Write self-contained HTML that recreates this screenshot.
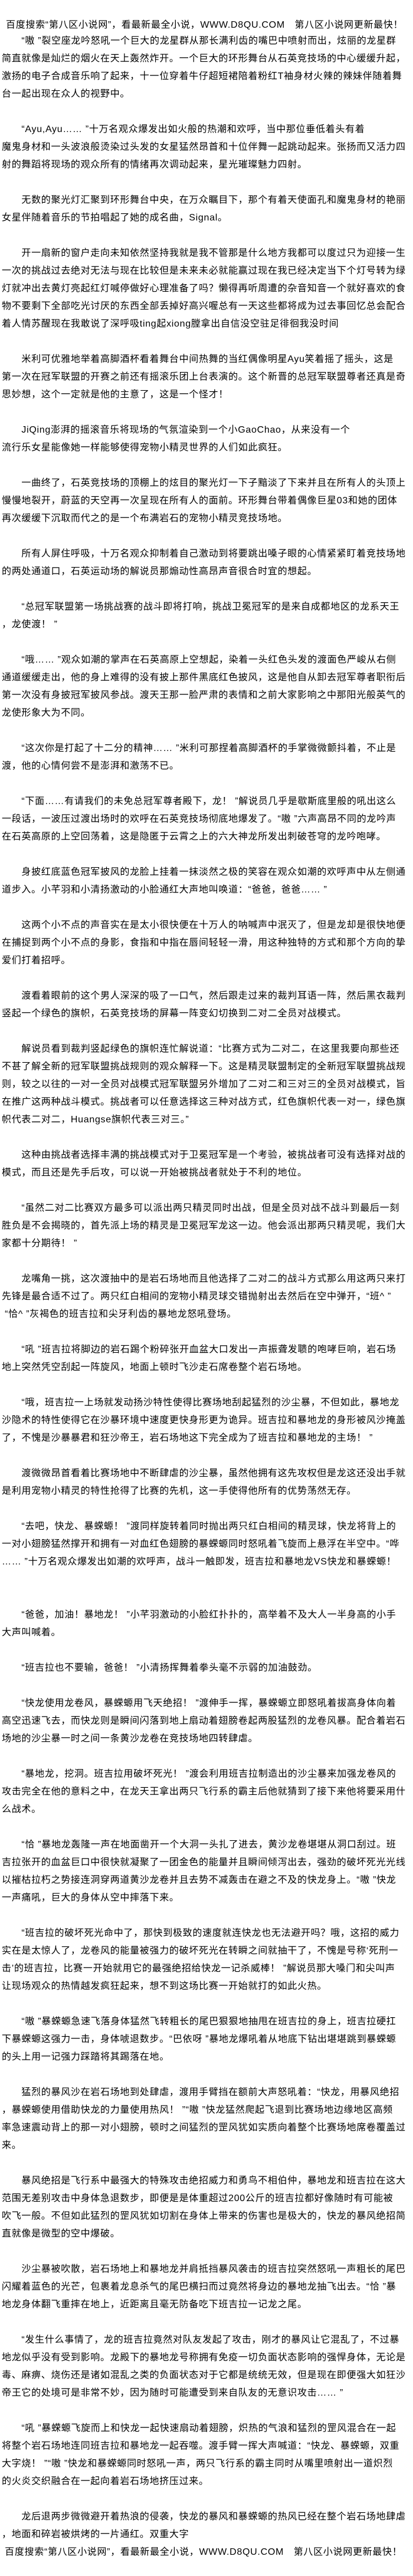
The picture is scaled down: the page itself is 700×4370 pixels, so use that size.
<!DOCTYPE html>
<html><head><meta charset="utf-8">
<style>
html,body{margin:0;padding:0;background:#fff;}
body{width:700px;height:4370px;position:relative;overflow:hidden;color:#000;
font-family:"Liberation Sans","Noto Sans CJK SC","WenQuanYi Zen Hei",sans-serif;font-size:16px;letter-spacing:0.7px;}
.h{position:absolute;left:10px;top:28px;line-height:30px;white-space:pre;}
.c{position:absolute;left:3px;top:55px;width:700px;}
.c div{height:30px;line-height:30px;white-space:pre;}
</style></head><body>
<div class="h">百度搜索“第八区小说网”，看最新最全小说，WWW.D8QU.COM　第八区小说网更新最快！</div>
<div class="c">
<div>　　“嗷 ”裂空座龙吟怒吼一个巨大的龙星群从那长满利齿的嘴巴中喷射而出，炫丽的龙星群</div>
<div>简直就像是灿烂的烟火在天上轰然炸开。一个巨大的环形舞台从石英竞技场的中心缓缓升起，</div>
<div>激扬的电子合成音乐响了起来，十一位穿着牛仔超短裙陪着粉红T袖身材火辣的辣妹伴随着舞</div>
<div>台一起出现在众人的视野中。</div>
<div></div>
<div>　　“Ayu,Ayu…… ”十万名观众爆发出如火般的热潮和欢呼，当中那位垂低着头有着</div>
<div>魔鬼身材和一头波浪般烫染过头发的女星猛然昂首和十位伴舞一起跳动起来。张扬而又活力四</div>
<div>射的舞蹈将现场的观众所有的情绪再次调动起来，星光璀璨魅力四射。</div>
<div></div>
<div>　　无数的聚光灯汇聚到环形舞台中央，在万众瞩目下，那个有着天使面孔和魔鬼身材的艳丽</div>
<div>女星伴随着音乐的节拍唱起了她的成名曲，Signal。</div>
<div></div>
<div>　　开一扇新的窗户走向未知依然坚持我就是我不管那是什么地方我都可以度过只为迎接一生</div>
<div>一次的挑战过去绝对无法与现在比较但是未来未必就能赢过现在我已经决定当下个灯号转为绿</div>
<div>灯就冲出去黄灯亮起红灯喊停做好心理准备了吗？懒得再听周遭的杂音知音一个就好喜欢的食</div>
<div>物不要剩下全部吃光讨厌的东西全部丢掉好高兴喔总有一天这些都将成为过去事回忆总会配合</div>
<div>着人情苏醒现在我敢说了深呼吸ting起xiong膛拿出自信没空驻足徘徊我没时间</div>
<div></div>
<div>　　米利可优雅地举着高脚酒杯看着舞台中间热舞的当红偶像明星Ayu笑着摇了摇头，这是</div>
<div>第一次在冠军联盟的开赛之前还有摇滚乐团上台表演的。这个新晋的总冠军联盟尊者还真是奇</div>
<div>思妙想，这个一定就是他的主意了，这是一个怪才！</div>
<div></div>
<div>　　JiQing澎湃的摇滚音乐将现场的气氛渲染到一个小GaoChao，从来没有一个</div>
<div>流行乐女星能像她一样能够使得宠物小精灵世界的人们如此疯狂。</div>
<div></div>
<div>　　一曲终了，石英竞技场的顶棚上的炫目的聚光灯一下子黯淡了下来并且在所有人的头顶上</div>
<div>慢慢地裂开，蔚蓝的天空再一次呈现在所有人的面前。环形舞台带着偶像巨星03和她的团体</div>
<div>再次缓缓下沉取而代之的是一个布满岩石的宠物小精灵竞技场地。</div>
<div></div>
<div>　　所有人屏住呼吸，十万名观众抑制着自己激动到将要跳出嗓子眼的心情紧紧盯着竞技场地</div>
<div>的两处通道口，石英运动场的解说员那煽动性高昂声音很合时宜的想起。</div>
<div></div>
<div>　　“总冠军联盟第一场挑战赛的战斗即将打响，挑战卫冕冠军的是来自成都地区的龙系天王</div>
<div>，龙使渡！ ”</div>
<div></div>
<div>　　“哦…… ”观众如潮的掌声在石英高原上空想起，染着一头红色头发的渡面色严峻从右侧</div>
<div>通道缓缓走出，他的身上难得的没有披上那件黑底红色披风，这是他自从卸去冠军尊者职衔后</div>
<div>第一次没有身披冠军披风参战。渡天王那一脸严肃的表情和之前大家影响之中那阳光般英气的</div>
<div>龙使形象大为不同。</div>
<div></div>
<div>　　“这次你是打起了十二分的精神…… ”米利可那捏着高脚酒杯的手掌微微颤抖着，不止是</div>
<div>渡，他的心情何尝不是澎湃和激荡不已。</div>
<div></div>
<div>　　“下面……有请我们的未免总冠军尊者殿下，龙！ ”解说员几乎是歇斯底里般的吼出这么</div>
<div>一段话，一波压过渡出场时的欢呼在石英竞技场彻底地爆发了。“嗷 ”六声高昂不同的龙吟声</div>
<div>在石英高原的上空回荡着，这是隐匿于云霄之上的六大神龙所发出刺破苍穹的龙吟咆哮。</div>
<div></div>
<div>　　身披红底蓝色冠军披风的龙脸上挂着一抹淡然之极的笑容在观众如潮的欢呼声中从左侧通</div>
<div>道步入。小芊羽和小清扬激动的小脸通红大声地叫唤道：“爸爸，爸爸…… ”</div>
<div></div>
<div>　　这两个小不点的声音实在是太小很快便在十万人的呐喊声中泯灭了，但是龙却是很快地便</div>
<div>在捕捉到两个小不点的身影，食指和中指在唇间轻轻一滑，用这种独特的方式和那个方向的挚</div>
<div>爱们打着招呼。</div>
<div></div>
<div>　　渡看着眼前的这个男人深深的吸了一口气，然后跟走过来的裁判耳语一阵，然后黑衣裁判</div>
<div>竖起一个绿色的旗帜，石英竞技场的屏幕一阵变幻切换到二对二全员对战模式。</div>
<div></div>
<div>　　解说员看到裁判竖起绿色的旗帜连忙解说道：“比赛方式为二对二，在这里我要向那些还</div>
<div>不甚了解全新的冠军联盟挑战规则的观众解释一下。这是精灵联盟制定的全新冠军联盟挑战规</div>
<div>则，较之以往的一对一全员对战模式冠军联盟另外增加了二对二和三对三的全员对战模式，旨</div>
<div>在推广这两种战斗模式。挑战者可以任意选择这三种对战方式，红色旗帜代表一对一，绿色旗</div>
<div>帜代表二对二，Huangse旗帜代表三对三。”</div>
<div></div>
<div>　　这种由挑战者选择丰满的挑战模式对于卫冕冠军是一个考验，被挑战者可没有选择对战的</div>
<div>模式，而且还是先手后攻，可以说一开始被挑战者就处于不利的地位。</div>
<div></div>
<div>　　“虽然二对二比赛双方最多可以派出两只精灵同时出战，但是全员对战不战斗到最后一刻</div>
<div>胜负是不会揭晓的，首先派上场的精灵是卫冕冠军龙这一边。他会派出那两只精灵呢，我们大</div>
<div>家都十分期待！ ”</div>
<div></div>
<div>　　龙嘴角一挑，这次渡抽中的是岩石场地而且他选择了二对二的战斗方式那么用这两只来打</div>
<div>先锋是最合适不过了。两只红白相间的宠物小精灵球交错抛射出去然后在空中弹开，“班^ ”</div>
<div> “恰^ ”灰褐色的班吉拉和尖牙利齿的暴地龙怒吼登场。</div>
<div></div>
<div>　　“吼 ”班吉拉将脚边的岩石踢个粉碎张开血盆大口发出一声振聋发聩的咆哮巨响，岩石场</div>
<div>地上突然凭空刮起一阵旋风，地面上顿时飞沙走石席卷整个岩石场地。</div>
<div></div>
<div>　　“哦，班吉拉一上场就发动扬沙特性使得比赛场地刮起猛烈的沙尘暴，不但如此，暴地龙</div>
<div>沙隐术的特性使得它在沙暴环境中速度更快身形更为诡异。班吉拉和暴地龙的身形被风沙掩盖</div>
<div>了，不愧是沙暴暴君和狂沙帝王，岩石场地这下完全成为了班吉拉和暴地龙的主场！ ”</div>
<div></div>
<div>　　渡微微昂首看着比赛场地中不断肆虐的沙尘暴，虽然他拥有这先攻权但是龙这还没出手就</div>
<div>是利用宠物小精灵的特性抢得了比赛的先机，这一手使得他所有的优势荡然无存。</div>
<div></div>
<div>　　“去吧，快龙、暴蝾螈！ ”渡同样旋转着同时抛出两只红白相间的精灵球，快龙将背上的</div>
<div>一对小翅膀猛然撑开和拥有一对血红色翅膀的暴蝾螈同时怒吼着飞旋而上悬浮在半空中。“哗</div>
<div>…… ”十万名观众爆发出如潮的欢呼声，战斗一触即发，班吉拉和暴地龙VS快龙和暴蝾螈！</div>
<div></div>
<div></div>
<div>　　“爸爸，加油！暴地龙！ ”小芊羽激动的小脸红扑扑的，高举着不及大人一半身高的小手</div>
<div>大声叫喊着。</div>
<div></div>
<div>　　“班吉拉也不要输，爸爸！ ”小清扬挥舞着拳头毫不示弱的加油鼓劲。</div>
<div></div>
<div>　　“快龙使用龙卷风，暴蝾螈用飞天绝招！ ”渡伸手一挥，暴蝾螈立即怒吼着拔高身体向着</div>
<div>高空迅速飞去，而快龙则是瞬间闪落到地上扇动着翅膀卷起两股猛烈的龙卷风暴。配合着岩石</div>
<div>场地的沙尘暴一时之间一条黄沙龙卷在竞技场地四转肆虐。</div>
<div></div>
<div>　　“暴地龙，挖洞。班吉拉用破坏死光！ ”渡会利用班吉拉制造出的沙尘暴来加强龙卷风的</div>
<div>攻击完全在他的意料之中，在龙天王拿出两只飞行系的霸主后他就猜到了接下来他将要采用什</div>
<div>么战术。</div>
<div></div>
<div>　　“恰 ”暴地龙轰隆一声在地面凿开一个大洞一头扎了进去，黄沙龙卷堪堪从洞口刮过。班</div>
<div>吉拉张开的血盆巨口中很快就凝聚了一团金色的能量并且瞬间倾泻出去，强劲的破坏死光光线</div>
<div>以摧枯拉朽之势接连洞穿两道黄沙龙卷并且去势不减轰击在避之不及的快龙身上。“嗷 ”快龙</div>
<div>一声痛吼，巨大的身体从空中摔落下来。</div>
<div></div>
<div>　　“班吉拉的破坏死光命中了，那快到极致的速度就连快龙也无法避开吗？哦，这招的威力</div>
<div>实在是太惊人了，龙卷风的能量被强力的破坏死光在转瞬之间就抽干了，不愧是号称‘死刑一</div>
<div>击’的班吉拉，比赛一开始就用它的最强绝招给快龙一记杀威棒！ ”解说员那大嗓门和尖叫声</div>
<div>让现场观众的热情越发疯狂起来，想不到这场比赛一开始就打的如此火热。</div>
<div></div>
<div>　　“嗷 ”暴蝾螈急速飞落身体猛然飞转粗长的尾巴狠狠地抽甩在班吉拉的身上，班吉拉硬扛</div>
<div>下暴蝾螈这强力一击，身体唬退数步。“巴依呀 ”暴地龙爆吼着从地底下钻出堪堪跳到暴蝾螈</div>
<div>的头上用一记强力踩踏将其踢落在地。</div>
<div></div>
<div>　　猛烈的暴风沙在岩石场地到处肆虐，渡用手臂挡在额前大声怒吼着：“快龙，用暴风绝招</div>
<div>，暴蝾螈使用借助快龙的力量使用热风！ ”“嗷 ”快龙猛然爬起飞退到比赛场地边缘地区高频</div>
<div>率急速震动背上的那一对小翅膀，顿时之间猛烈的罡风犹如实质向着整个比赛场地席卷覆盖过</div>
<div>来。</div>
<div></div>
<div>　　暴风绝招是飞行系中最强大的特殊攻击绝招威力和勇鸟不相伯仲，暴地龙和班吉拉在这大</div>
<div>范围无差别攻击中身体急退数步，即便是是体重超过200公斤的班吉拉都好像随时有可能被</div>
<div>吹飞一般。不但如此猛烈的罡风犹如切割在身体上带来的伤害也是极大的，快龙的暴风绝招简</div>
<div>直就像是微型的空中爆破。</div>
<div></div>
<div>　　沙尘暴被吹散，岩石场地上和暴地龙并肩抵挡暴风袭击的班吉拉突然怒吼一声粗长的尾巴</div>
<div>闪耀着蓝色的光芒，包裹着龙息杀气的尾巴横扫而过竟然将身边的暴地龙抽飞出去。“恰 ”暴</div>
<div>地龙身体翻飞重摔在地上，近距离且毫无防备吃下班吉拉一记龙之尾。</div>
<div></div>
<div>　　“发生什么事情了，龙的班吉拉竟然对队友发起了攻击，刚才的暴风让它混乱了，不过暴</div>
<div>地龙似乎没有受到影响。龙殿下的暴地龙号称拥有免疫一切负面状态影响的强悍身体，无论是</div>
<div>毒、麻痹、烧伤还是诸如混乱之类的负面状态对于它都是统统无效，但是现在即便强大如狂沙</div>
<div>帝王它的处境可是非常不妙，因为随时可能遭受到来自队友的无意识攻击…… ”</div>
<div></div>
<div>　　“吼 ”暴蝾螈飞旋而上和快龙一起快速扇动着翅膀，炽热的气浪和猛烈的罡风混合在一起</div>
<div>将整个岩石场地连同班吉拉和暴地龙一起吞噬。渡手臂一挥大声喊道：“快龙、暴蝾螈，双重</div>
<div>大字烧！ ”“嗷 ”快龙和暴蝾螈同时怒吼一声，两只飞行系的霸主同时从嘴里喷射出一道炽烈</div>
<div>的火炎交织融合在一起向着岩石场地挤压过来。</div>
<div></div>
<div>　　龙后退两步微微避开着热浪的侵袭，快龙的暴风和暴蝾螈的热风已经在整个岩石场地肆虐</div>
<div>，地面和碎岩被烘烤的一片通红。双重大字</div>
<div> 百度搜索“第八区小说网”，看最新最全小说，WWW.D8QU.COM　第八区小说网更新最快！</div>
</div>
</body></html>
